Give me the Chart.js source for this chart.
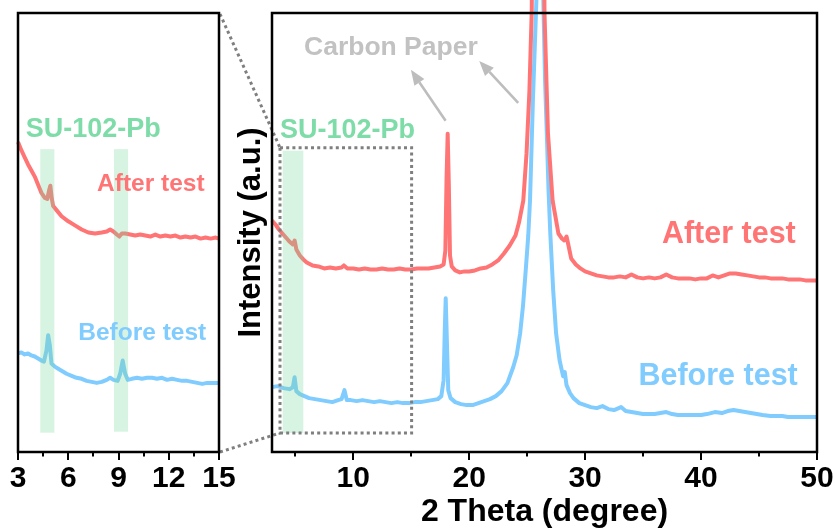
<!DOCTYPE html>
<html>
<head>
<meta charset="utf-8">
<script src="https://cdn.jsdelivr.net/npm/chart.js@4.4.1/dist/chart.umd.min.js"></script>
<style>
  html, body { margin: 0; padding: 0; background: #ffffff; }
  #wrap { position: relative; width: 835px; height: 531px; }
  canvas { position: absolute; left: 0; top: 0; }
</style>
</head>
<body>
<div id="wrap">
  <canvas id="main" width="835" height="531"></canvas>
  <canvas id="inset" width="240" height="531"></canvas>
</div>
<script>
// ---------------- data (2 Theta in degree, intensity in a.u.) ----------------
const afterTheta = [3.0,3.3,3.6,3.9,4.2,4.5,4.8,4.95,5.1,5.4,5.7,6.0,6.5,7.0,7.5,8.0,8.5,9.0,9.2,9.5,10,10.5,11,11.5,12,12.5,13,13.5,14,14.5,15,15.5,16,16.5,17,17.5,17.8,17.95,18.05,18.15,18.25,18.35,18.5,18.8,19.2,19.6,20,20.5,21,21.5,22,22.5,23,23.5,24,24.3,24.67,24.95,25.2,25.4,26.0,26.5,26.8,27.2,27.7,28.0,28.2,28.4,28.55,28.8,29.2,29.6,30,30.5,31,31.5,32,32.5,33,33.5,34,34.5,35,35.5,36,36.5,37,37.5,38,38.5,39,39.5,40,40.5,41,41.5,42,42.5,43,43.5,44,44.5,45,45.5,46,46.5,47,47.5,48,48.5,49,49.5,50];
const afterIntensity = [232,228,223,219,215,211,208,212,203,197,193,190,187,186,184,185,184,185,187,184,184,183,184,183,183,184,183,183,184,183,183,184,184,184,185,186,188,202,272,319,267,197,186,182,180,181,181,182,184,185,188,192,199,207,217,230,252,299,362,442,1300,440,319,252,219,214,212,216,208,194,188,184,181,179,177,176,175,175,176,175,178,175,174,175,174,175,178,175,174,174,174,173,174,174,177,175,177,179,179,178,177,176,175,175,174,174,174,173,173,173,172,172,172];

const beforeTheta = [3.0,3.5,4.0,4.5,4.8,4.95,5.1,5.4,5.8,6.2,6.7,7.2,7.7,8.2,8.7,9.0,9.25,9.45,9.8,10.3,10.8,11.3,11.8,12.3,12.8,13.3,13.8,14.3,14.8,15.3,15.8,16.3,16.8,17.3,17.6,17.8,17.9,17.98,18.08,18.2,18.4,18.8,19.3,19.8,20.3,20.8,21.3,21.8,22.3,22.8,23.3,23.8,24.1,24.4,24.65,24.9,25.1,25.25,25.5,25.8,26.1,26.4,26.55,26.7,26.85,27.0,27.25,27.5,27.8,28.1,28.25,28.4,28.7,29.0,29.5,30,30.5,31,31.5,32,32.5,33.1,33.5,34,34.5,35,35.5,36,36.5,37,37.5,38,38.5,39,39.5,40,40.5,41.2,41.8,42.3,42.8,43.3,43.8,44.3,44.8,45.3,46,46.5,47,47.5,48,48.5,49,49.5,50];
const beforeIntensity = [65,66,64,63,65,75,61,58,56,54,53,52,51,50,52,53,62,52,52,51,52,51,50,51,50,49,50,49,49,50,50,51,52,53,56,72,122,154,112,62,54,50,48,47,47,49,51,53,56,61,69,85,97,119,147,185,217,252,352,452,1400,452,372,319,262,219,162,119,92,76,80,67,59,54,49,47,45,44,46,43,42,45,41,40,39,38,38,38,39,40,38,37,37,37,37,37,38,40,39,41,42,41,40,39,38,37,36,36,36,35,35,35,35,35,35];

const insetAfterTheta = [3.0,3.2,3.4,3.6,3.8,4.0,4.2,4.4,4.6,4.75,4.85,4.93,5.02,5.1,5.3,5.6,6.0,6.4,6.8,7.2,7.6,8.0,8.3,8.5,8.7,8.9,9.05,9.2,9.4,9.7,10.0,10.3,10.6,10.9,11.2,11.5,11.8,12.1,12.4,12.7,13.0,13.3,13.6,13.9,14.2,14.5,14.8,15.0];
const insetAfterIntensity = [304,296,289,282,276,270,262,254,249,248,256,261,248,241,237,231,226,222,218,215,214,215,216,218,216,213,211,214,214,213,212,213,212,211,213,211,212,211,212,210,211,210,211,209,210,209,210,209];

const insetBeforeTheta = [3.0,3.2,3.4,3.6,3.8,4.0,4.2,4.4,4.55,4.7,4.8,4.9,5.0,5.2,5.4,5.6,5.9,6.2,6.5,6.8,7.1,7.4,7.7,8.0,8.3,8.5,8.7,8.95,9.1,9.25,9.4,9.55,9.8,10.1,10.4,10.7,11.0,11.3,11.6,11.9,12.2,12.5,12.8,13.1,13.4,13.7,14.0,14.3,14.6,15.0];
const insetBeforeIntensity = [96,97,95,96,94,93,91,89,88,99,114,104,86,83,81,79,76,74,72,71,69,68,67,68,70,72,70,69,76,89,76,70,71,72,71,72,72,71,72,70,71,70,69,69,68,67,66,67,67,67];

const mainTickLabels = [10, 20, 30, 40, 50];
const mainMinorTicks = [5, 15, 25, 35, 45];
const insetTickLabels = [3, 6, 9, 12, 15];
const insetMinorTicks = [4.5, 7.5, 10.5, 13.5];

const seriesNames = ['After test', 'Before test'];
const phaseName = 'SU-102-Pb';
const substrateName = 'Carbon Paper';

// annotation ranges (data units)
const mainBand = [3.92, 5.70, 19, 302];
const insetBands = [[4.33, 5.17, 18, 297], [8.73, 9.57, 19, 297]];
const zoomBox = [3.69, 15.04, 19, 305];

// ---------------- styling ----------------
const RED = '#ff7575';
const BLUE = '#80ccff';
const GREEN_TXT = '#7edca8';
const BAND = 'rgba(122, 216, 160, 0.30)';
const GRAY_TXT = '#c2c2c2';
const FONT = '"Liberation Sans", Arial, Helvetica, sans-serif';
const LW = 4;

function pts(xs, ys) { return xs.map((x, i) => ({ x: x, y: ys[i] })); }

function drawFrameAndTicks(chart, major, minor) {
  const ctx = chart.ctx, a = chart.chartArea, sx = chart.scales.x;
  ctx.save();
  ctx.strokeStyle = '#000';
  ctx.lineWidth = 2;
  ctx.lineCap = 'butt';
  major.forEach(v => { const p = Math.round(sx.getPixelForValue(v)); ctx.beginPath(); ctx.moveTo(p, a.bottom); ctx.lineTo(p, a.bottom + 8); ctx.stroke(); });
  minor.forEach(v => { const p = Math.round(sx.getPixelForValue(v)); ctx.beginPath(); ctx.moveTo(p, a.bottom); ctx.lineTo(p, a.bottom + 4.5); ctx.stroke(); });
  ctx.lineWidth = 2.5;
  ctx.strokeRect(a.left, a.top, a.right - a.left, a.bottom - a.top);
  ctx.restore();
}

function drawBand(chart, b) {
  const ctx = chart.ctx, sx = chart.scales.x, sy = chart.scales.y;
  const x0 = sx.getPixelForValue(b[0]), x1 = sx.getPixelForValue(b[1]);
  const y0 = sy.getPixelForValue(b[3]), y1 = sy.getPixelForValue(b[2]);
  ctx.save(); ctx.fillStyle = BAND; ctx.fillRect(x0, y0, x1 - x0, y1 - y0); ctx.restore();
}

function label(chart, text, x, y, color, size, align) {
  const ctx = chart.ctx;
  ctx.save();
  ctx.font = 'bold ' + size + 'px ' + FONT;
  ctx.fillStyle = color;
  ctx.textAlign = align;
  ctx.textBaseline = 'middle';
  ctx.fillText(text, chart.scales.x.getPixelForValue(x), chart.scales.y.getPixelForValue(y));
  ctx.restore();
}

function arrow(chart, x0, y0, x1, y1) {
  const ctx = chart.ctx, sx = chart.scales.x, sy = chart.scales.y;
  const ax = sx.getPixelForValue(x0), ay = sy.getPixelForValue(y0);
  const bx = sx.getPixelForValue(x1), by = sy.getPixelForValue(y1);
  const ang = Math.atan2(by - ay, bx - ax), L = 15, W = 6;
  const cx = bx - L * Math.cos(ang), cy = by - L * Math.sin(ang);
  ctx.save();
  ctx.strokeStyle = '#bdbdbd'; ctx.fillStyle = '#bdbdbd'; ctx.lineWidth = 2.6;
  ctx.beginPath(); ctx.moveTo(ax, ay); ctx.lineTo(cx, cy); ctx.stroke();
  ctx.beginPath();
  ctx.moveTo(bx, by);
  ctx.lineTo(cx + W * Math.sin(ang), cy - W * Math.cos(ang));
  ctx.lineTo(cx - W * Math.sin(ang), cy + W * Math.cos(ang));
  ctx.closePath(); ctx.fill();
  ctx.restore();
}

const baseOpts = (xmin, xmax, ticksArr, ymin, ymax, padL, padR, yAxis) => ({
  responsive: false,
  animation: false,
  devicePixelRatio: 1,
  events: [],
  plugins: { legend: { display: false }, tooltip: { enabled: false } },
  layout: { padding: { left: padL, right: padR, top: 13, bottom: 0 } },
  scales: {
    x: {
      type: 'linear', min: xmin, max: xmax,
      grid: { display: false, drawTicks: false }, border: { display: false },
      afterBuildTicks: s => { s.ticks = ticksArr.map(v => ({ value: v })); },
      afterFit: s => { s.height = 79; s.paddingLeft = 0; s.paddingRight = 0; },
      ticks: { color: '#000', padding: 9, maxRotation: 0, autoSkip: false, font: { family: FONT, size: 30, weight: 'bold' } },
      title: yAxis ? { display: true, text: '2 Theta (degree)', color: '#000', padding: 0, font: { family: FONT, size: 32, weight: 'bold', lineHeight: 1.2 } } : { display: false }
    },
    y: yAxis ? {
      type: 'linear', min: ymin, max: ymax, display: true,
      grid: { display: false, drawTicks: false }, border: { display: false },
      ticks: { display: false },
      afterFit: s => { s.width = 39; s.paddingTop = 0; s.paddingBottom = 0; },
      title: { display: true, text: 'Intensity (a.u.)', color: '#000', padding: 0, font: { family: FONT, size: 31, weight: 'bold', lineHeight: 1.2 } }
    } : { type: 'linear', min: ymin, max: ymax, display: false }
  }
});

// ---------------- inset chart (3 - 15 degree) ----------------
const insetChart = new Chart(document.getElementById('inset'), {
  type: 'line',
  data: {
    datasets: [
      { label: seriesNames[0], data: pts(insetAfterTheta, insetAfterIntensity), borderColor: RED, borderWidth: LW, pointRadius: 0, tension: 0, borderJoinStyle: 'round', clip: false },
      { label: seriesNames[1], data: pts(insetBeforeTheta, insetBeforeIntensity), borderColor: BLUE, borderWidth: LW, pointRadius: 0, tension: 0, borderJoinStyle: 'round', clip: false }
    ]
  },
  options: baseOpts(3, 15, insetTickLabels, -1, 431, 18, 21, false),
  plugins: [{
    id: 'insetDeco',
    afterDraw(chart) {
      insetBands.forEach(b => drawBand(chart, b));
      label(chart, phaseName, 3.46, 316, GREEN_TXT, 27, 'left');
      label(chart, seriesNames[0], 14.14, 262, RED, 24.5, 'right');
      label(chart, seriesNames[1], 14.24, 116, BLUE, 24.5, 'right');
      drawFrameAndTicks(chart, insetTickLabels, insetMinorTicks);
    }
  }]
});

// ---------------- main chart (3 - 50 degree) ----------------
const mainChart = new Chart(document.getElementById('main'), {
  type: 'line',
  data: {
    datasets: [
      { label: seriesNames[0], data: pts(afterTheta, afterIntensity), borderColor: RED, borderWidth: LW, pointRadius: 0, tension: 0, borderJoinStyle: 'round', clip: false },
      { label: seriesNames[1], data: pts(beforeTheta, beforeIntensity), borderColor: BLUE, borderWidth: LW, pointRadius: 0, tension: 0, borderJoinStyle: 'round', clip: false }
    ]
  },
  options: baseOpts(3, 50, mainTickLabels, 0, 440, 233, 18, true),
  plugins: [{
    id: 'mainDeco',
    afterDraw(chart) {
      const ctx = chart.ctx, sx = chart.scales.x, sy = chart.scales.y;
      drawBand(chart, mainBand);
      // dotted zoom box
      const bx0 = sx.getPixelForValue(zoomBox[0]), bx1 = sx.getPixelForValue(zoomBox[1]);
      const by0 = sy.getPixelForValue(zoomBox[3]), by1 = sy.getPixelForValue(zoomBox[2]);
      ctx.save();
      ctx.strokeStyle = '#7f7f7f'; ctx.lineWidth = 3; ctx.setLineDash([3, 3.2]);
      ctx.strokeRect(bx0, by0, bx1 - bx0, by1 - by0);
      // connecting lines to the inset frame
      const ia = insetChart.chartArea;
      ctx.beginPath(); ctx.moveTo(ia.right + 1, ia.top + 1); ctx.lineTo(bx0, by0); ctx.stroke();
      ctx.beginPath(); ctx.moveTo(ia.right + 1, ia.bottom); ctx.lineTo(bx0, by1); ctx.stroke();
      ctx.restore();
      label(chart, substrateName, 5.76, 405, GRAY_TXT, 26.5, 'left');
      arrow(chart, 17.97, 332, 14.98, 383);
      arrow(chart, 24.23, 350, 20.87, 392);
      label(chart, phaseName, 3.69, 322, GREEN_TXT, 27, 'left');
      label(chart, seriesNames[0], 48.17, 218, RED, 30.5, 'right');
      label(chart, seriesNames[1], 48.34, 76, BLUE, 30.5, 'right');
      drawFrameAndTicks(chart, mainTickLabels, mainMinorTicks);
    }
  }]
});
</script>
</body>
</html>
